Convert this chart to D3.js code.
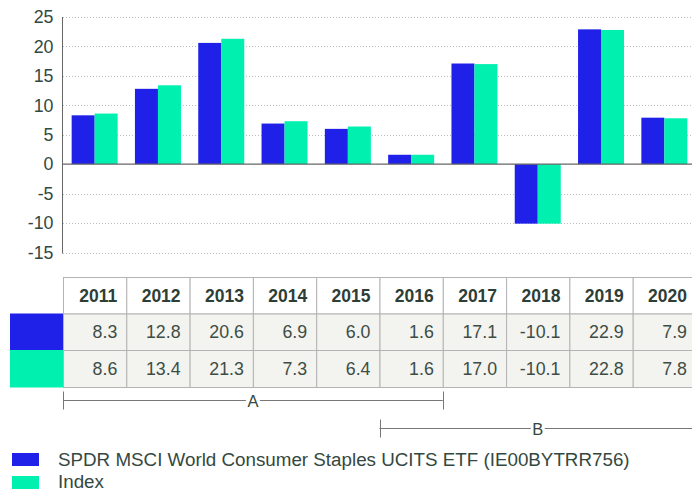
<!DOCTYPE html>
<html><head><meta charset="utf-8">
<script src="https://cdn.jsdelivr.net/npm/d3@7"></script>
<style>html,body{margin:0;padding:0;background:#fff;overflow:hidden}svg{display:block;font-family:"Liberation Sans",Arial,sans-serif}</style>
</head><body><svg id="c" width="692" height="490"></svg>
<script>
const years = ["2011","2012","2013","2014","2015","2016","2017","2018","2019","2020"];
const etfValues = [8.3,12.8,20.6,6.9,6.0,1.6,17.1,-10.1,22.9,7.9];
const indexValues = [8.6,13.4,21.3,7.3,6.4,1.6,17.0,-10.1,22.8,7.8];
const seriesNames = ["SPDR MSCI World Consumer Staples UCITS ETF (IE00BYTRR756)","Index"];
const seriesColors = ["#1f20e8","#00f0b0"];
const yTicks = [25,20,15,10,5,0,-5,-10,-15];
const periods = [{label:"A", from:"2011", to:"2016"},{label:"B", from:"2016", to:"2020"}];

const svg = d3.select("#c");
const textColor = "#34483f";
const x = d3.scaleBand().domain(years).range([63, 696]).padding(0);
const xs = d3.scaleBand().domain([0,1]).range([0, x.bandwidth()]).paddingInner(0).paddingOuter(0.376);
const y = d3.scaleLinear().domain([-15,25]).range([252.5, 17]);

// grid
svg.append("g").selectAll("line").data(yTicks.filter(d=>d!==0)).join("line")
  .attr("x1",63).attr("x2",692).attr("y1",d=>Math.round(y(d))+0.5).attr("y2",d=>Math.round(y(d))+0.5)
  .attr("stroke","#bdbdbd").attr("stroke-dasharray","1,2");

// y axis
const yAxis = d3.axisLeft(y).tickValues(yTicks).tickSize(0).tickPadding(9).tickFormat(d=>String(d));
const ga = svg.append("g").attr("transform","translate(62.5,0)").call(yAxis);
ga.select(".domain").attr("stroke","#666").attr("d",`M0,${y(25)}V${y(-15)+1}`);
ga.selectAll("text").attr("font-size",17.8).attr("fill",textColor).attr("font-family","Liberation Sans, Arial, sans-serif");

// bars
const series = [etfValues, indexValues];
series.forEach((vals,si)=>{
  svg.append("g").selectAll("rect").data(years).join("rect")
    .attr("x",(d)=>x(d)+xs(si))
    .attr("width",xs.bandwidth())
    .attr("y",(d,i)=>y(Math.max(0,vals[i])))
    .attr("height",(d,i)=>Math.abs(y(vals[i])-y(0)))
    .attr("fill",seriesColors[si]);
});
// zero line
svg.append("line").attr("x1",62.5).attr("x2",692).attr("y1",y(0)).attr("y2",y(0)).attr("stroke","#666").attr("stroke-width",1.2);

// table
const rowTop = [277, 313.5, 350, 387];
const tg = svg.append("g");
tg.selectAll("rect.h").data(years).join("rect").attr("class","h")
  .attr("x",d=>x(d)+0.5).attr("y",rowTop[0]+0.5).attr("width",x.bandwidth()).attr("height",rowTop[1]-rowTop[0])
  .attr("fill","#fff").attr("stroke","#b4b4b4");
series.forEach((vals,si)=>{
  tg.append("rect").attr("x",10).attr("y",rowTop[si+1]).attr("width",53).attr("height",rowTop[si+2]-rowTop[si+1]+0.5)
    .attr("fill",seriesColors[si]);
  tg.append("g").selectAll("rect").data(years).join("rect")
    .attr("x",d=>x(d)+0.5).attr("y",rowTop[si+1]+0.5).attr("width",x.bandwidth()).attr("height",rowTop[si+2]-rowTop[si+1])
    .attr("fill","#f3f3ef").attr("stroke","#b4b4b4");
  tg.append("g").selectAll("text").data(years).join("text")
    .attr("x",d=>x(d)+x.bandwidth()-9).attr("y",(rowTop[si+1]+rowTop[si+2])/2+6.5)
    .attr("text-anchor","end").attr("font-size",17.8).attr("fill","#3d4d46")
    .text((d,i)=>vals[i].toFixed(1));
});
tg.append("g").selectAll("text").data(years).join("text")
  .attr("x",d=>x(d)+x.bandwidth()-9).attr("y",(rowTop[0]+rowTop[1])/2+6.5)
  .attr("text-anchor","end").attr("font-size",17.5).attr("font-weight","bold").attr("fill","#2d3e36")
  .text(d=>d);

// period brackets
const by = [400, 428];
periods.forEach((p,i)=>{
  const x1 = x(p.from), x2 = p.to==="2020" ? 696 : x(p.to)+x.bandwidth();
  const g = svg.append("g").attr("stroke","#777");
  const yy = by[i]+0.5;
  g.append("line").attr("x1",x1).attr("x2",x2).attr("y1",yy).attr("y2",yy);
  g.append("line").attr("x1",Math.round(x1)+0.5).attr("x2",Math.round(x1)+0.5).attr("y1",yy-9).attr("y2",yy+9);
  g.append("line").attr("x1",Math.round(x2)+0.5).attr("x2",Math.round(x2)+0.5).attr("y1",yy-9).attr("y2",yy+9);
  const mx = (x1+x2)/2;
  g.append("rect").attr("x",mx-7).attr("y",yy-8).attr("width",14).attr("height",16).attr("fill","#fff").attr("stroke","none");
  svg.append("text").attr("x",mx).attr("y",yy+6).attr("text-anchor","middle").attr("font-size",16.5).attr("fill",textColor).text(p.label);
});

// legend
const lg = svg.append("g");
seriesNames.forEach((n,i)=>{
  lg.append("rect").attr("x",12).attr("y",453+i*23).attr("width",27).attr("height",13).attr("fill",seriesColors[i]);
  lg.append("text").attr("x",58).attr("y",466+i*21.5).attr("font-size",18.8).attr("fill",textColor).text(n);
});
</script></body></html>
